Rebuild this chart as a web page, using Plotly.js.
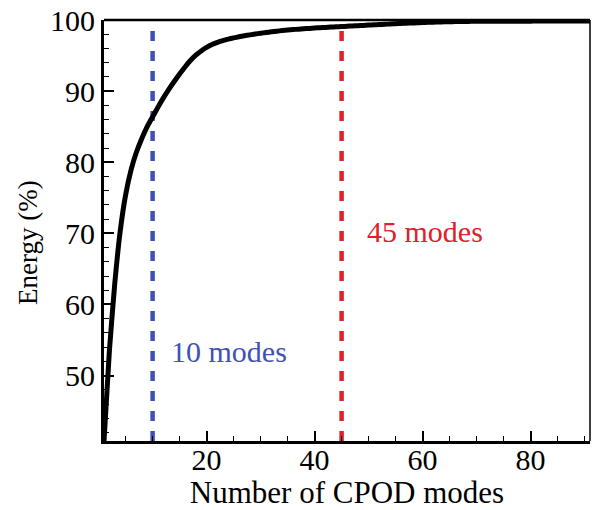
<!DOCTYPE html>
<html>
<head>
<meta charset="utf-8">
<script src="https://cdn.plot.ly/plotly-3.0.1.min.js"></script>
<style>html,body{margin:0;padding:0;background:#fff}#chart{width:594px;height:510px}</style>
</head>
<body>
<div id="chart"></div>
<script>
// Number of CPOD modes and cumulative energy (%)
var modes = [1,2,3,4,5,6,7,8,9,10,11,12,13,14,15,16,17,18,19,20,21,22,23,24,25,26,27,28,29,30,31,32,33,34,35,36,37,38,39,40,41,42,43,44,45,46,47,48,49,50,51,52,53,54,55,56,57,58,59,60,61,62,63,64,65,66,67,68,69,70,71,72,73,74,75,76,77,78,79,80,81,82,83,84,85,86,87,88,89,90,91];
var energy = [40.8,53.5,63.0,70.3,75.4,78.9,81.4,83.35,85.0,86.4,87.75,89.05,90.25,91.35,92.4,93.4,94.3,95.05,95.65,96.15,96.55,96.85,97.1,97.3,97.48,97.64,97.78,97.91,98.03,98.14,98.24,98.34,98.43,98.51,98.58,98.65,98.71,98.77,98.82,98.87,98.92,98.96,99.0,99.04,99.08,99.12,99.16,99.2,99.24,99.28,99.32,99.36,99.4,99.44,99.48,99.52,99.55,99.58,99.61,99.64,99.67,99.7,99.72,99.74,99.76,99.78,99.79,99.8,99.81,99.81,99.82,99.82,99.82,99.83,99.83,99.83,99.84,99.84,99.84,99.84,99.85,99.85,99.85,99.85,99.85,99.86,99.86,99.86,99.86,99.86,99.86];

// Marker lines
var markerModes = [10, 45];
var markerLabels = ["10 modes", "45 modes"];
var markerColors = ["#3f51b5", "#e0202a"];
var labelY = [53.4, 70.3];
var labelX = [13.1, 49.4];

var xRange = [1, 91];
var yRange = [40.8, 100];
var xTickVals = [20, 40, 60, 80];
var yTickVals = [50, 60, 70, 80, 90, 100];
var xTitle = 'Number of CPOD modes';
var yTitle = 'Energy (%)';

var font = "Liberation Serif, Times New Roman, serif";

var traces = [];
for (var i = 0; i < markerModes.length; i++) {
  traces.push({
    x: [markerModes[i], markerModes[i]],
    y: [yRange[0], yRange[1]],
    mode: 'lines',
    line: {color: markerColors[i], width: 4.5, dash: '10px,10px'},
    hoverinfo: 'skip', showlegend: false
  });
}
traces.push({
  x: modes, y: energy, mode: 'lines',
  line: {color: '#000', width: 5, shape: 'spline', smoothing: 0.5},
  showlegend: false
});

var annotations = [];
for (var j = 0; j < markerModes.length; j++) {
  annotations.push({
    x: labelX[j], y: labelY[j], xref: 'x', yref: 'y',
    text: markerLabels[j], showarrow: false,
    xanchor: 'left', yanchor: 'middle',
    font: {family: font, size: 30, color: markerColors[j]}
  });
}
annotations.push({
  x: -0.158, y: 0.471, xref: 'paper', yref: 'paper',
  text: yTitle, showarrow: false, textangle: -90,
  xanchor: 'center', yanchor: 'middle',
  font: {family: font, size: 27, color: '#000'}
});

var layout = {
  width: 594, height: 510,
  margin: {l: 104, r: 4, t: 20, b: 69},
  paper_bgcolor: '#fff', plot_bgcolor: '#fff',
  font: {family: font, color: '#000'},
  showlegend: false,
  xaxis: {
    range: xRange, tickvals: xTickVals, ticktext: xTickVals.map(String),
    showgrid: false, zeroline: false,
    showline: true, linewidth: 3, linecolor: '#000',
    ticks: 'inside', ticklen: 10, tickwidth: 2, tickcolor: '#000',
    minor: {dtick: 5, tick0: 0, ticks: 'inside', ticklen: 5, tickwidth: 1, tickcolor: '#000', showgrid: false},
    tickfont: {family: font, size: 30, color: '#000'},
    ticklabelstandoff: -10,
    title: {text: xTitle, font: {family: font, size: 31, color: '#000'}, standoff: 14}
  },
  yaxis: {
    range: yRange, tickvals: yTickVals, ticktext: yTickVals.map(String),
    showgrid: false, zeroline: false,
    showline: true, linewidth: 3, linecolor: '#000',
    ticks: 'inside', ticklen: 10, tickwidth: 2, tickcolor: '#000',
    minor: {dtick: 2, tick0: 0, ticks: 'inside', ticklen: 5, tickwidth: 1, tickcolor: '#000', showgrid: false},
    tickfont: {family: font, size: 30, color: '#000'}
  },
  shapes: [
    {type: 'line', xref: 'paper', yref: 'paper', x0: 0, x1: 1, y0: 1, y1: 1, line: {color: '#000', width: 2.5}},
    {type: 'line', xref: 'paper', yref: 'paper', x0: 1, x1: 1, y0: 0, y1: 1, line: {color: '#000', width: 1.5}}
  ],
  annotations: annotations
};

Plotly.newPlot('chart', traces, layout, {displayModeBar: false, staticPlot: true});
</script>
</body>
</html>
